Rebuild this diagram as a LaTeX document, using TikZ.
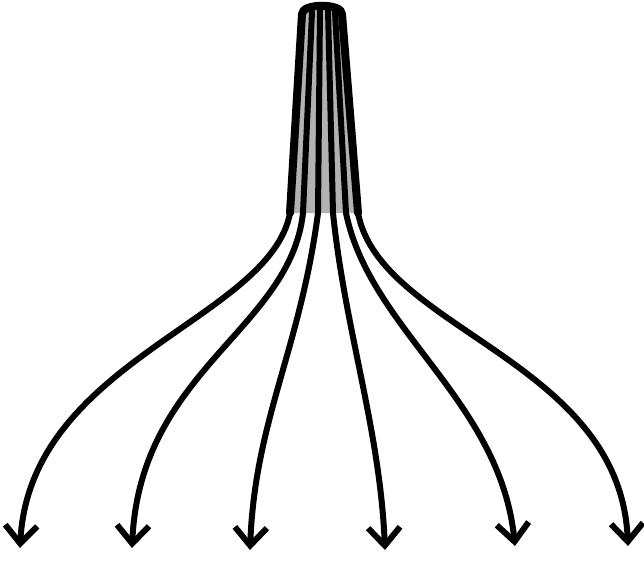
\documentclass[tikz,border=0pt]{standalone}
\usepackage{tikz}
\usetikzlibrary{arrows.meta,calc}

\begin{document}
\begin{tikzpicture}[x=1pt, y=-1pt, >=stealth, thick]
    \tikzset{
        tube/.style={fill=black!30, draw=none},
        edge/.style={draw, line width=8pt, line cap=round, line join=round, black},
        strand/.style={draw, line width=6pt, line cap=round, line join=round, black},
        fan/.style={strand, -{Straight Barb[length=18pt, width=32pt, line width=6pt]}}
    }
    \useasboundingbox (0,0) rectangle (644,564);

    % bundle at the top
    \coordinate (capL) at (302,14);
    \coordinate (capR) at (342,14);
    \coordinate (footL) at (290,213);
    \coordinate (footR) at (358,213);
    \path [tube] (capL) .. controls (302,3) and (342,3) .. (capR) -- (footR) -- (footL) -- cycle;
    \draw [edge] (footL) -- (capL) .. controls (302,3) and (342,3) .. (capR) -- (footR);

    % arrow tips
    \coordinate (tip1) at (20,548);
    \coordinate (tip2) at (132,548);
    \coordinate (tip3) at (250,550);
    \coordinate (tip4) at (385,550);
    \coordinate (tip5) at (515,546);
    \coordinate (tip6) at (628,546);

    % strands fanning out
    \draw [fan] (capL) -- (footL) .. controls (270,320) and (30,360) .. (tip1);
    \draw [fan] (312,12) -- (303,213) .. controls (290,330) and (140,370) .. (tip2);
    \draw [fan] (320,10) -- (318,213) .. controls (300,350) and (255,420) .. (tip3);
    \draw [fan] (328,10) -- (333,213) .. controls (345,330) and (380,430) .. (tip4);
    \draw [fan] (335,12) -- (346,213) .. controls (370,330) and (500,400) .. (tip5);
    \draw [fan] (capR) -- (footR) .. controls (380,330) and (620,360) .. (tip6);
\end{tikzpicture}
\end{document}
